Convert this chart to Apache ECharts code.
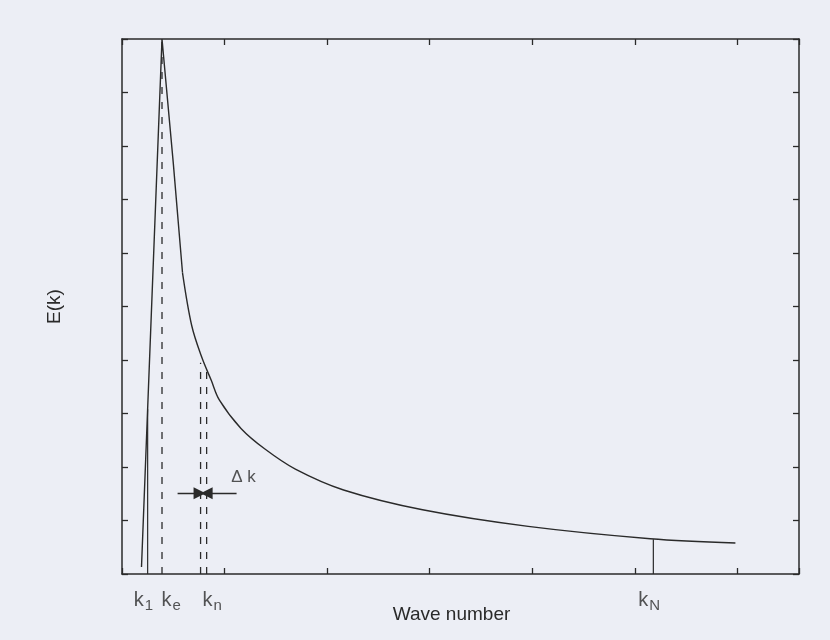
<!DOCTYPE html>
<html>
<head>
<meta charset="utf-8">
<script src="https://cdn.jsdelivr.net/npm/echarts@6/dist/echarts.min.js"></script>
<style>
  html, body { margin: 0; padding: 0; background: #eceef5; }
  #chart { width: 830px; height: 640px; }
</style>
</head>
<body>
<div id="chart"></div>
<script>
// Energy spectrum E(k) against wave number (arbitrary units)
// Rising branch up to the peak and the steep drop to the knee
const riseX = [0.19, 0.39, 0.50, 0.59];
const riseY = [0.13, 10.0, 7.68, 5.63];
// Decaying tail from the knee onwards
const tailX = [0.59, 0.68, 0.776, 0.87, 0.95, 1.16, 1.39, 1.69, 2.16, 2.93, 3.96, 5.15, 5.98];
const tailY = [5.63, 4.64, 4.06, 3.62, 3.25, 2.72, 2.34, 1.96, 1.57, 1.20, 0.89, 0.66, 0.58];

// Marker lines: k1 and kN (solid), ke and the two kn bounds (dashed)
const solidMarkX = [0.25, 5.18];
const solidMarkTop = [3.08, 0.65];
const dashedMarkX = [0.39, 0.766, 0.825];
const dashedMarkTop = [10.0, 3.95, 3.8];

// Δk arrows: [fromX, toX] at a common height
const arrowY = 1.51;
const arrowFrom = [0.542, 1.117];
const arrowTo = [0.756, 0.825];

// Wave-number labels under the axis
const waveLabels = ['1', 'e', 'n', 'N'];
const waveLabelX = [0.21, 0.48, 0.88, 5.14];

const deltaLabel = 'Δ k';
const deltaPos = [1.185, 1.81];

const ink = '#2a2a2a';
const font = 'Liberation Sans';

const chart = echarts.init(document.getElementById('chart'));

const series = [];
series.push({
  type: 'line',
  data: riseX.map((x, i) => [x, riseY[i]]),
  showSymbol: false,
  lineStyle: { color: ink, width: 1.4 },
  z: 5
});
series.push({
  type: 'line',
  data: tailX.map((x, i) => [x, tailY[i]]),
  showSymbol: false,
  smooth: 0.35,
  lineStyle: { color: ink, width: 1.4 },
  z: 5
});
solidMarkX.forEach((x, i) => {
  series.push({
    type: 'line',
    data: [[x, 0], [x, solidMarkTop[i]]],
    showSymbol: false,
    lineStyle: { color: ink, width: 1.2 }
  });
});
dashedMarkX.forEach((x, i) => {
  series.push({
    type: 'line',
    data: [[x, 0], [x, dashedMarkTop[i]]],
    showSymbol: false,
    lineStyle: { color: ink, width: 1.3, type: [7, 8] }
  });
});
series.push({
  type: 'lines',
  coordinateSystem: 'cartesian2d',
  symbol: ['none', 'triangle'],
  symbolSize: [10, 12],
  lineStyle: { color: ink, width: 1.4, opacity: 1 },
  data: arrowFrom.map((x, i) => ({ coords: [[x, arrowY], [arrowTo[i], arrowY]] })),
  z: 6
});
series.push({
  type: 'scatter',
  symbolSize: 0,
  data: waveLabelX.map((x, i) => ({ value: [x, 0], sub: waveLabels[i] })),
  label: {
    show: true,
    position: 'bottom',
    distance: 13,
    formatter: p => '{k|k}{s|' + p.data.sub + '}',
    rich: {
      k: { fontFamily: font, fontSize: 20, color: ink },
      s: { fontFamily: font, fontSize: 15, color: ink, padding: [11, 0, 0, 1] }
    }
  },
  silent: true
});
series.push({
  type: 'scatter',
  symbolSize: 0,
  data: [deltaPos],
  label: {
    show: true,
    position: 'inside',
    formatter: deltaLabel,
    fontFamily: font,
    fontSize: 17,
    color: ink
  },
  silent: true
});

const axisLineStyle = { show: true, onZero: false, lineStyle: { color: ink, width: 1.5 } };
const tickStyle = { show: true, inside: true, length: 6, lineStyle: { color: ink, width: 1.3 } };

chart.setOption({
  backgroundColor: '#eceef5',
  animation: false,
  grid: { left: 122, right: 31, top: 39, bottom: 66, outerBoundsMode: 'none' },
  xAxis: [
    {
      type: 'value', position: 'bottom', min: 0, max: 6.6, interval: 1,
      name: 'Wave number', nameLocation: 'middle', nameGap: 31,
      nameTextStyle: { fontFamily: font, fontSize: 19, color: ink, padding: [0, 18, 0, 0] },
      axisLine: axisLineStyle, axisTick: tickStyle,
      axisLabel: { show: false }, splitLine: { show: false }
    },
    {
      type: 'value', position: 'top', min: 0, max: 6.6, interval: 1,
      axisLine: axisLineStyle, axisTick: tickStyle,
      axisLabel: { show: false }, splitLine: { show: false }
    }
  ],
  yAxis: [
    {
      type: 'value', position: 'left', min: 0, max: 10, interval: 1,
      name: 'E(k)', nameLocation: 'middle', nameGap: 58,
      nameTextStyle: { fontFamily: font, fontSize: 19, color: ink },
      axisLine: axisLineStyle, axisTick: tickStyle,
      axisLabel: { show: false }, splitLine: { show: false }
    },
    {
      type: 'value', position: 'right', min: 0, max: 10, interval: 1,
      axisLine: axisLineStyle, axisTick: tickStyle,
      axisLabel: { show: false }, splitLine: { show: false }
    }
  ],
  series: series
});
</script>
</body>
</html>
